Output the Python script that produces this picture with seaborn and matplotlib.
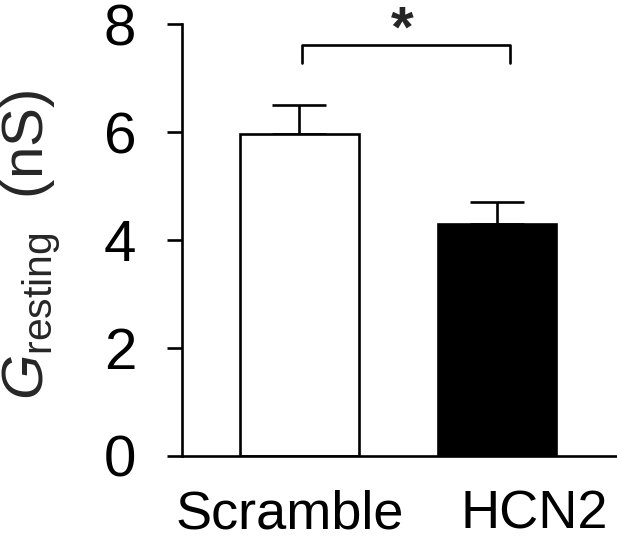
import numpy as np
import pandas as pd
import matplotlib
matplotlib.use('Agg')
import matplotlib.pyplot as plt
import seaborn as sns

# data
groups = ['Scramble', 'HCN2']
g_mean = [5.96, 4.30]
g_sem = [0.54, 0.40]
bar_colors = ['white', 'black']
y_ticks = [0, 2, 4, 6, 8]

sns.set_style('white')
plt.rcParams['font.family'] = ['Liberation Sans', 'DejaVu Sans']
plt.rcParams['mathtext.fontset'] = 'custom'
plt.rcParams['mathtext.rm'] = 'Liberation Sans'
plt.rcParams['mathtext.it'] = 'Liberation Sans:italic'

LW = 1.9

df = pd.DataFrame({'group': groups, 'G': g_mean})

fig = plt.figure(figsize=(6.17, 5.42), dpi=100)
ax = fig.add_axes([0.295, 0.1587, 0.703, 0.797])

sns.barplot(data=df, x='group', y='G', hue='group', palette=bar_colors,
            edgecolor='black', linewidth=LW, width=0.6, errorbar=None,
            legend=False, ax=ax)

# upper-only SEM bars
ax.errorbar(range(len(groups)), g_mean, yerr=[[0] * len(g_sem), g_sem],
            fmt='none', ecolor='black', elinewidth=LW, capsize=19.5,
            capthick=LW, zorder=0)

ax.set_ylim(0, 8)
ax.set_xlim(-0.595, 1.603)
ax.set_yticks(y_ticks)
# labels in the original sit a little apart from the bar centres
ax.set_xticks([-0.048, 1.19])
ax.set_xticklabels(groups)
ax.set_xlabel('')
ax.set_ylabel(r'$G_{\mathrm{resting}}$  (nS)', fontsize=42)
ax.yaxis.set_label_coords(-0.277, 0.49)

sns.despine(ax=ax)
for s in ['left', 'bottom']:
    ax.spines[s].set_linewidth(LW)
    ax.spines[s].set_color('black')
ax.tick_params(axis='y', direction='out', length=11, width=LW,
               labelsize=42, pad=22, left=True, colors='black')
ax.tick_params(axis='x', length=0, labelsize=39, pad=24, colors='black')

# significance bracket
x1, x2, yb, yh = 0.013, 1.066, 7.28, 7.61
ax.plot([x1, x1, x2, x2], [yb, yh, yh, yb], color='black', lw=LW,
        clip_on=False)
ax.text(0.52, 7.58, '*', ha='center', va='baseline', fontsize=42,
        fontweight='bold', clip_on=False)

fig.savefig('out.png', dpi=100)
